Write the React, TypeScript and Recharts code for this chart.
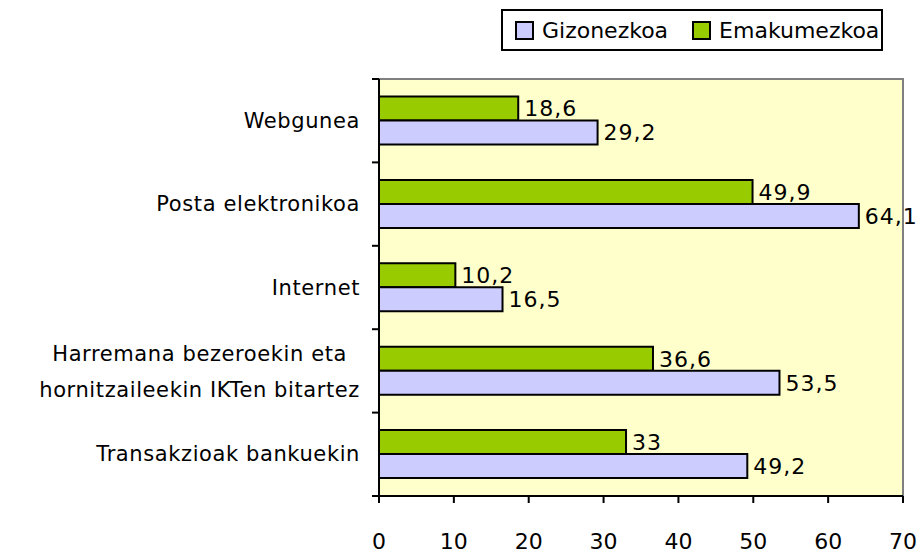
import React from 'react';
import { BarChart, Bar, XAxis, YAxis, CartesianGrid, LabelList, ReferenceArea } from 'recharts';

const categories = [
  'Webgunea',
  'Posta elektronikoa',
  'Internet',
  'Harremana bezeroekin eta\nhornitzaileekin IKTen bitartez',
  'Transakzioak bankuekin',
];
const gizonezkoa = [29.2, 64.1, 16.5, 53.5, 49.2];
const emakumezkoa = [18.6, 49.9, 10.2, 36.6, 33];
const xTicks = [0, 10, 20, 30, 40, 50, 60, 70];

const data = categories.map((name, i) => ({
  name,
  gizonezkoa: gizonezkoa[i],
  emakumezkoa: emakumezkoa[i],
}));

const FONT = '"DejaVu Sans", sans-serif';
const LAVENDER = '#CCCCFF';
const GREEN = '#99CC00';

const fmt = (v: number) => String(v).replace('.', ',');

let ctx: CanvasRenderingContext2D | null = null;
const measure = (s: string) => {
  if (!ctx) ctx = document.createElement('canvas').getContext('2d');
  if (!ctx) return s.length * 12;
  ctx.font = `21px ${FONT}`;
  return ctx.measureText(s).width + s.length * 0.6;
};

// category label + small tick marks at the band edges
const CategoryTick = ({ x, y, payload, index }: any) => {
  const lines = String(payload.value).split('\n');
  const half = payload.offset || 41.7;
  const right = x - 2;
  const common = { fontSize: 21, fontFamily: FONT, fill: '#000', letterSpacing: 0.6 };
  const marks = (
    <g stroke="#000" strokeWidth={2}>
      <line x1={x + 10} x2={x + 17} y1={y - half} y2={y - half} />
      {index === categories.length - 1 && <line x1={x + 10} x2={x + 17} y1={y + half} y2={y + half} />}
    </g>
  );
  if (lines.length === 1) {
    return (
      <g>
        {marks}
        <text x={right} y={y} dy={7} textAnchor="end" {...common}>
          {lines[0]}
        </text>
      </g>
    );
  }
  const w = Math.max(...lines.map(measure));
  const cx = right - w / 2;
  return (
    <g>
      {marks}
      <text x={cx} y={y} textAnchor="middle" {...common}>
        {lines.map((l, i) => (
          <tspan key={i} x={cx} dy={i === 0 ? -10 : 36}>{l}</tspan>
        ))}
      </text>
    </g>
  );
};

const ValueTick = ({ x, y, payload }: any) => (
  <text x={x} y={y} dy={44} textAnchor="middle" fontSize={22} fontFamily={FONT} fill="#000">
    {payload.value}
  </text>
);

const Swatch = ({ color }: { color: string }) => (
  <span style={{ display: 'inline-block', width: 15, height: 15, background: color, border: '2px solid #000', marginRight: 8 }} />
);

export default function App() {
  return (
    <div style={{ position: 'absolute', left: 0, top: 0, width: 919, height: 556, background: '#fff' }}>
      <BarChart
        width={919}
        height={556}
        data={data}
        layout="vertical"
        margin={{ top: 79, right: 16, bottom: 0, left: 0 }}
        barGap={0}
        barCategoryGap="21%"
      >
        <CartesianGrid horizontal={false} vertical={false} fill="#FFFFCC" />
        <ReferenceArea x1={0} x2={70} fill="none" stroke="#808080" strokeWidth={2} />
        <XAxis
          type="number"
          domain={[0, 70]}
          ticks={xTicks}
          interval={0}
          height={60}
          axisLine={{ stroke: '#000', strokeWidth: 2 }}
          tickLine={{ stroke: '#000', strokeWidth: 2 }}
          tickSize={7}
          tick={<ValueTick />}
        />
        <YAxis
          type="category"
          dataKey="name"
          width={379}
          axisLine={{ stroke: '#000', strokeWidth: 2 }}
          tickLine={false}
          tickSize={7}
          tickMargin={10}
          interval={0}
          tick={<CategoryTick />}
        />
        <Bar dataKey="emakumezkoa" fill={GREEN} stroke="#000" strokeWidth={2} isAnimationActive={false}>
          <LabelList dataKey="emakumezkoa" position="right" offset={6} formatter={fmt} fill="#000" fontSize={22} fontFamily={FONT} style={{ letterSpacing: 1 }} />
        </Bar>
        <Bar dataKey="gizonezkoa" fill={LAVENDER} stroke="#000" strokeWidth={2} isAnimationActive={false}>
          <LabelList dataKey="gizonezkoa" position="right" offset={6} formatter={fmt} fill="#000" fontSize={22} fontFamily={FONT} style={{ letterSpacing: 1 }} />
        </Bar>
      </BarChart>
      <div
        style={{
          position: 'absolute', left: 501, top: 9, width: 382, height: 42,
          border: '2px solid #000', background: '#fff', display: 'flex', alignItems: 'center',
          fontFamily: FONT, fontSize: 22, paddingLeft: 12, boxSizing: 'border-box', whiteSpace: 'nowrap',
        }}
      >
        <Swatch color={LAVENDER} />
        <span style={{ marginRight: 24 }}>Gizonezkoa</span>
        <Swatch color={GREEN} />
        <span>Emakumezkoa</span>
      </div>
    </div>
  );
}
